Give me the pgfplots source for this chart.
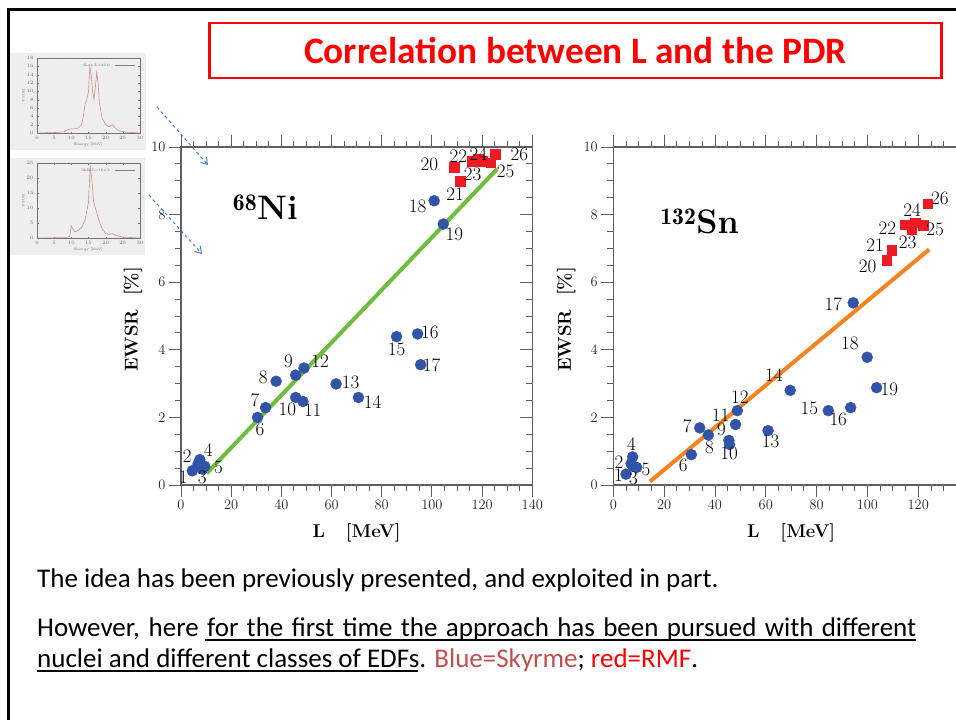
\documentclass[border=0pt]{standalone}
\usepackage{pgfplots}
\pgfplotsset{compat=1.18}
\usepackage{fontspec}
\usetikzlibrary{arrows.meta}
\newfontfamily\calibri{Carlito}
\definecolor{ptblue}{RGB}{50,84,168}
\definecolor{ptred}{RGB}{237,28,36}
\definecolor{lgreen}{RGB}{108,190,60}
\definecolor{lorange}{RGB}{247,130,32}
\definecolor{arrblue}{RGB}{74,126,200}
\definecolor{skyrme}{RGB}{192,80,77}
\definecolor{axgray}{RGB}{95,95,95}
\definecolor{thumbbg}{RGB}{238,238,238}
\definecolor{thumbcurve}{RGB}{205,140,140}

\pgfplotsset{
  mainax/.style={
    scale only axis, height=338pt,
    xmin=0, xmax=140, ymin=0, ymax=10,
    xtick={0,20,...,140}, ytick={0,2,...,10},
    minor x tick num=3, minor y tick num=3,
    tick align=outside, ytick pos=left, xtick pos=both,
    major tick length=12pt, minor tick length=6pt,
    axis line style={axgray, line width=1.1pt},
    every tick/.style={axgray, line width=0.9pt},
    tick label style={font=\fontsize{15}{15}\selectfont, text=black!85},
    clip=false,
  },
  rightax/.style={
    scale only axis, height=338pt,
    xmin=0, xmax=140, ymin=0, ymax=10,
    axis x line=none, axis y line*=right,
    ytick={0,2,...,10}, minor y tick num=3,
    tick align=inside, yticklabels={},
    major tick length=12pt, minor tick length=6pt,
    axis line style={axgray, line width=1.1pt},
    every tick/.style={axgray, line width=0.9pt},
  },
  ptlabels/.style={
    draw=none, mark=none, nodes near coords, point meta=explicit symbolic,
    every node near coord/.append style={anchor=center, inner sep=0pt,
      font=\fontsize{19}{19}\selectfont, text=black}
  },
  thumb/.style={
    scale only axis, width=103pt, height=75pt,
    xmin=0, xmax=30, xtick={0,5,...,30},
    tick align=inside, major tick length=1.5pt,
    axis line style={black!55, line width=0.4pt},
    every tick/.style={black!55, line width=0.3pt},
    tick label style={font=\fontsize{3.5}{4}\selectfont, text=black!60},
    label style={font=\fontsize{3.5}{4}\selectfont, text=black!60},
    xlabel={Energy [MeV]}, ylabel={YSOR},
    xlabel style={yshift=4pt}, ylabel style={yshift=-5pt},
    clip=false,
  },
}

\pgfplotstableread{
x y
4.5 0.42
6.8 0.62
8.5 0.47
7.5 0.75
9.5 0.55
30.5 2.0
33.7 2.29
37.9 3.07
45.7 3.25
45.7 2.59
48.6 2.47
49.0 3.46
61.8 2.99
70.7 2.59
85.9 4.39
94.3 4.47
95.5 3.56
100.9 8.41
104.5 7.72
}\niblue
\pgfplotstableread{
x y
108.8 9.40
111.2 8.99
116.0 9.58
118.5 9.65
120.1 9.58
123.4 9.53
125.2 9.79
}\nired
\pgfplotstableread{
x y t
0.9 0.24 1
2.5 0.85 2
8.5 0.24 3
10.9 1.02 4
14.9 0.52 5
31.5 1.66 6
29.5 2.5 7
32.8 3.17 8
42.8 3.67 9
42.4 2.24 10
52.5 2.2 11
55.4 3.66 12
67.6 3.05 13
76.4 2.44 14
85.9 4.02 15
99.2 4.52 16
99.9 3.54 17
94.3 8.25 18
108.9 7.41 19
99.0 9.48 20
109.2 8.59 21
110.5 9.74 22
116.2 9.18 23
118.5 9.80 24
129.4 9.28 25
134.8 9.77 26
}\nilab
\pgfplotstableread{
x y
5.0 0.32
7.0 0.63
7.8 0.55
7.6 0.83
9.2 0.52
30.7 0.90
34.0 1.69
37.4 1.48
45.5 1.32
45.7 1.20
48.1 1.79
48.8 2.20
60.9 1.61
69.6 2.80
84.6 2.20
93.4 2.29
94.4 5.39
99.9 3.78
103.6 2.88
}\snblue
\pgfplotstableread{
x y
107.5 6.65
109.6 6.95
114.8 7.70
117.4 7.57
118.7 7.76
122.0 7.69
123.7 8.32
}\snred
\pgfplotstableread{
x y t
2.0 0.29 1
2.2 0.66 2
7.9 0.20 3
7.2 1.20 4
12.9 0.46 5
27.5 0.57 6
29.1 1.74 7
37.8 1.12 8
42.6 1.66 9
45.6 0.93 10
42.2 2.05 11
49.8 2.61 12
61.9 1.30 13
63.2 3.25 14
77.1 2.27 15
88.5 1.95 16
86.6 5.35 17
93.1 4.20 18
108.6 2.83 19
100.1 6.46 20
103.0 7.10 21
107.8 7.60 22
115.8 7.18 23
117.6 8.14 24
126.6 7.57 25
128.5 8.49 26
}\snlab

\begin{document}
\begin{tikzpicture}
\useasboundingbox (0pt,0pt) rectangle (956pt,-720pt);
\clip (0pt,0pt) rectangle (956pt,-720pt);
\fill[white] (0pt,0pt) rectangle (956pt,-720pt);

% slide border
\draw[line width=3pt] (8.5pt,-720pt) -- (8.5pt,-9.5pt) -- (960pt,-9.5pt);

% title
\draw[red, line width=2.8pt] (209.5pt,-23pt) rectangle (941.5pt,-78pt);
\node[text=red, font=\calibri\bfseries\fontsize{37.3}{40}\selectfont] at (575.5pt,-51pt) {Correlation between L and the PDR};

% thumbnails
\fill[thumbbg] (10pt,-53pt) rectangle (146pt,-150pt);
\fill[thumbbg] (10pt,-158pt) rectangle (145pt,-255pt);
\begin{axis}[thumb, at={(37pt,-133pt)}, anchor=south west, ymin=0, ymax=18, ytick={0,2,...,18}]
\addplot[thumbcurve, line width=0.6pt] coordinates {(0,0) (5,0.1) (8,0.3) (9,0.8) (10,1) (11,1) (12,1.2) (13,2) (13.5,4) (14,7) (14.5,8) (15,10) (15.4,16) (15.8,14) (16.2,10) (16.6,8) (17,11) (17.4,14.5) (17.8,12) (18.2,7) (19,3.5) (20,2) (21,1.5) (22,2) (23,1) (24,0.5) (26,0.2) (30,0)};
\node[font=\fontsize{3.5}{4}\selectfont, text=black!60, anchor=east] at (axis description cs:0.74,0.9) {SLy4 L=46.0};
\draw[black!50, line width=0.3pt] (axis description cs:0.76,0.9) -- (axis description cs:0.95,0.9);
\end{axis}
\begin{axis}[thumb, at={(37pt,-238pt)}, anchor=south west, ymin=0, ymax=25, ytick={0,5,...,25}]
\addplot[thumbcurve, line width=0.6pt] coordinates {(0,0) (8,0.1) (9.5,0.5) (10,4) (10.5,3) (11,2) (12,2.5) (13,3.5) (14,6) (15,12) (15.5,24) (16,19) (16.5,12) (17,10) (18,6) (19,3) (20,1.5) (21,1.2) (22,1.5) (23,0.8) (25,0.3) (30,0)};
\node[font=\fontsize{3.5}{4}\selectfont, text=black!60, anchor=east] at (axis description cs:0.74,0.9) {SkI2 L=104.3};
\draw[black!50, line width=0.3pt] (axis description cs:0.76,0.9) -- (axis description cs:0.95,0.9);
\end{axis}

% arrows
\draw[arrblue, dashed, line width=1pt, -{Straight Barb[length=6pt,width=8pt]}] (157pt,-107pt) -- (208pt,-165pt);
\draw[arrblue, dashed, line width=1pt, -{Straight Barb[length=6pt,width=8pt]}] (149pt,-195pt) -- (202pt,-254pt);

% ---- left plot: 68Ni ----
\begin{axis}[rightax, at={(181pt,-485pt)}, anchor=south west, width=351.3pt]
\end{axis}
\begin{axis}[mainax, at={(181pt,-485pt)}, anchor=south west, width=351.3pt]
\addplot[lgreen, line width=4pt] coordinates {(10.2,0.34) (126,9.35)};
\addplot[only marks, mark=*, mark size=5.5pt, mark options={draw=ptblue, fill=ptblue}] table {\niblue};
\addplot[only marks, mark=square*, mark size=4.8pt, mark options={draw=ptred, fill=ptred}] table {\nired};
\addplot[ptlabels] table[meta=t] {\nilab};
\node[anchor=base west, inner sep=0pt, font=\fontsize{34}{36}\selectfont\bfseries] at (axis cs:20.6,7.85) {$^{\mathbf{68}}$Ni};
\node[rotate=90, font=\fontsize{18.5}{18.5}\selectfont\bfseries] at (axis description cs:-0.137,0.49) {EWSR~~[\%]};
\node[font=\fontsize{18.5}{18.5}\selectfont\bfseries] at (axis description cs:0.5,-0.142) {L~~~[MeV]};
\end{axis}

% ---- right plot: 132Sn ----
\begin{axis}[rightax, at={(613.3pt,-485pt)}, anchor=south west, width=355.8pt]
\end{axis}
\begin{axis}[mainax, at={(613.3pt,-485pt)}, anchor=south west, width=355.8pt]
\addplot[lorange, line width=4pt] coordinates {(14.4,0.1) (124.3,6.97)};
\addplot[only marks, mark=*, mark size=5.5pt, mark options={draw=ptblue, fill=ptblue}] table {\snblue};
\addplot[only marks, mark=square*, mark size=4.8pt, mark options={draw=ptred, fill=ptred}] table {\snred};
\addplot[ptlabels] table[meta=t] {\snlab};
\node[anchor=base west, inner sep=0pt, font=\fontsize{34}{36}\selectfont\bfseries] at (axis cs:18.4,7.45) {$^{\mathbf{132}}$Sn};
\node[rotate=90, font=\fontsize{18.5}{18.5}\selectfont\bfseries] at (axis description cs:-0.132,0.49) {EWSR~~[\%]};
\node[font=\fontsize{18.5}{18.5}\selectfont\bfseries] at (axis description cs:0.5,-0.142) {L~~~[MeV]};
\end{axis}

% body text
\node[anchor=base west, inner sep=0pt, font=\calibri\fontsize{27}{30}\selectfont] at (37pt,-587pt) {The idea has been previously presented, and exploited in part.};
\node[anchor=base west, inner sep=0pt, font=\calibri\fontsize{27}{30}\selectfont] at (37pt,-636pt) {\makebox[879pt][s]{However, here for the first time the approach has been pursued with different}};
\node[anchor=base west, inner sep=0pt, font=\calibri\fontsize{27}{30}\selectfont] at (37pt,-667pt) {nuclei and different classes of EDFs. \textcolor{skyrme}{Blue=Skyrme}; \textcolor{red}{red=RMF}.};
\draw[line width=1.8pt] (205pt,-640pt) -- (916pt,-640pt);
\draw[line width=1.8pt] (37pt,-671pt) -- (418pt,-671pt);
\end{tikzpicture}
\end{document}
